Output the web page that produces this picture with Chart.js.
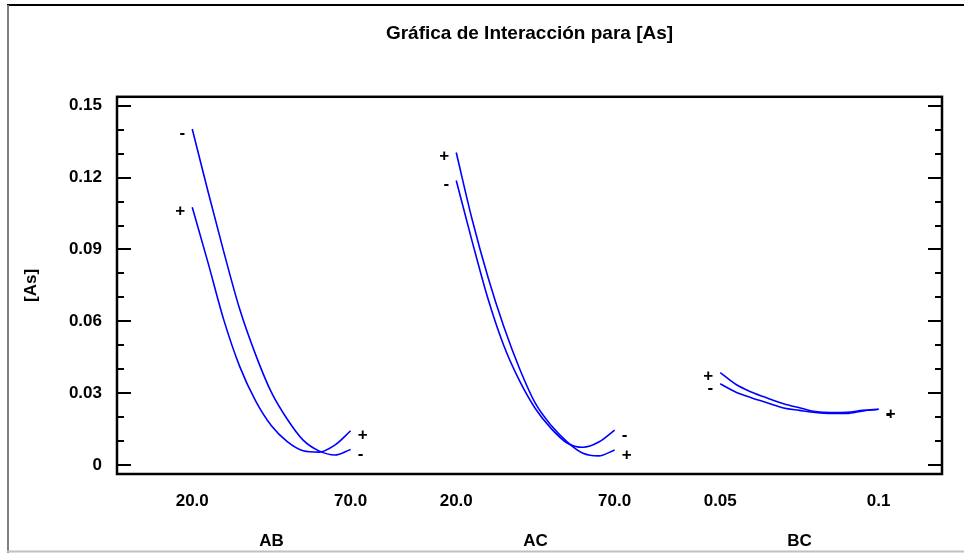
<!DOCTYPE html>
<html>
<head>
<meta charset="utf-8">
<title>Gráfica de Interacción para [As]</title>
<script src="https://cdn.jsdelivr.net/npm/chart.js@4.4.1/dist/chart.umd.min.js"></script>
<style>
  html, body { margin: 0; padding: 0; background: #fff; }
  canvas { display: block; }
</style>
</head>
<body>
<canvas id="chart" width="964" height="553"></canvas>
<script>
// factor levels along each interaction panel
var abLevels = [20, 25, 30, 35, 40, 45, 50, 55, 60, 65, 70];
var acLevels = [20, 25, 30, 35, 40, 45, 50, 55, 60, 65, 70];
var bcLevels = [0.05, 0.055, 0.06, 0.065, 0.07, 0.075, 0.08, 0.085, 0.09, 0.095, 0.1];

// [As] response
var abMinus = [0.1403, 0.1141, 0.0888, 0.0650, 0.0461, 0.0303, 0.0191, 0.0104, 0.0059, 0.0042, 0.0065];
var abPlus  = [0.1076, 0.0844, 0.0604, 0.0411, 0.0268, 0.0164, 0.0098, 0.0060, 0.0054, 0.0083, 0.0143];
var acPlus  = [0.1305, 0.1026, 0.0785, 0.0578, 0.0402, 0.0257, 0.0165, 0.0097, 0.0049, 0.0038, 0.0063];
var acMinus = [0.1188, 0.0935, 0.0695, 0.0499, 0.0351, 0.0235, 0.0152, 0.0092, 0.0074, 0.0096, 0.0146];
var bcPlus  = [0.0386, 0.0336, 0.0304, 0.0279, 0.0256, 0.0239, 0.0223, 0.0219, 0.0220, 0.0228, 0.0233];
var bcMinus = [0.0339, 0.0304, 0.0280, 0.0259, 0.0238, 0.0228, 0.0219, 0.0215, 0.0215, 0.0226, 0.0233];

var factorNames = ['AB', 'AC', 'BC'];
var xTickLabels = ['20.0', '70.0', '20.0', '70.0', '0.05', '0.1'];
var yTicks = [0, 0.01, 0.02, 0.03, 0.04, 0.05, 0.06, 0.07, 0.08, 0.09, 0.10, 0.11, 0.12, 0.13, 0.14, 0.15];
var yTickLabels = ['0', '', '', '0.03', '', '', '0.06', '', '', '0.09', '', '', '0.12', '', '', '0.15'];

var SPAN = 0.6; // width of one panel on the x axis
var FONT = '"Liberation Sans", Arial, sans-serif';

function panel(levels, values, group) {
    var lo = levels[0], hi = levels[levels.length - 1];
    return levels.map(function (lv, i) {
        return { x: group + (lv - lo) / (hi - lo) * SPAN, y: values[i] };
    });
}

function line(data, startLabel, endLabel) {
    return {
        data: data,
        borderColor: 'rgb(0, 0, 255)',
        borderWidth: 1.6,
        pointRadius: 0,
        fill: false,
        cubicInterpolationMode: 'monotone',
        startLabel: startLabel,
        endLabel: endLabel
    };
}

var datasets = [
    line(panel(abLevels, abMinus, 0), '-', '-'),
    line(panel(abLevels, abPlus, 0), '+', '+'),
    line(panel(acLevels, acPlus, 1), '+', '+'),
    line(panel(acLevels, acMinus, 1), '-', '-'),
    line(panel(bcLevels, bcMinus, 2), '-', '-'),
    line(panel(bcLevels, bcPlus, 2), '+', '+')
];

var xTickPos = [0, SPAN, 1, 1 + SPAN, 2, 2 + SPAN];
var factorPos = [SPAN / 2, 1 + SPAN / 2, 2 + SPAN / 2];

var decorations = {
    id: 'decorations',
    beforeDraw: function (chart) {
        var ctx = chart.ctx;
        ctx.save();
        ctx.fillStyle = '#fff';
        ctx.fillRect(0, 0, chart.width, chart.height);
        ctx.lineWidth = 2;
        ctx.strokeStyle = '#000';
        ctx.beginPath(); ctx.moveTo(7, 5); ctx.lineTo(chart.width, 5); ctx.stroke();
        ctx.strokeStyle = '#808080';
        ctx.beginPath(); ctx.moveTo(8, 5); ctx.lineTo(8, chart.height); ctx.stroke();
        ctx.strokeStyle = '#c0c0c0';
        ctx.beginPath(); ctx.moveTo(7, 551.5); ctx.lineTo(chart.width, 551.5); ctx.stroke();
        ctx.restore();
    },
    afterDatasetsDraw: function (chart) {
        var ctx = chart.ctx;
        ctx.save();
        ctx.font = 'bold 17px ' + FONT;
        ctx.fillStyle = '#000';
        ctx.textBaseline = 'middle';
        chart.data.datasets.forEach(function (ds, i) {
            var pts = chart.getDatasetMeta(i).data;
            var a = pts[0], b = pts[pts.length - 1];
            ctx.textAlign = 'right';
            ctx.fillText(ds.startLabel, a.x - 7, a.y + 4);
            ctx.textAlign = 'left';
            ctx.fillText(ds.endLabel, b.x + 7, b.y + 5);
        });
        ctx.restore();
    },
    afterDraw: function (chart) {
        var ctx = chart.ctx;
        var area = chart.chartArea;
        var y = chart.scales.y;
        ctx.save();
        ctx.strokeStyle = '#000';
        ctx.lineWidth = 2;
        y.ticks.forEach(function (t, i) {
            var py = Math.round(y.getPixelForValue(t.value));
            var len = yTickLabels[i] ? 14 : 7;
            ctx.beginPath();
            ctx.moveTo(area.left, py); ctx.lineTo(area.left + len, py);
            ctx.moveTo(area.right, py); ctx.lineTo(area.right - len, py);
            ctx.stroke();
        });
        ctx.lineWidth = 2.5;
        ctx.strokeRect(area.left, area.top, area.right - area.left, area.bottom - area.top);
        ctx.restore();
    }
};

var tickFont = { family: FONT, size: 17, weight: 'bold' };

new Chart(document.getElementById('chart'), {
    type: 'line',
    data: { datasets: datasets },
    plugins: [decorations],
    options: {
        responsive: false,
        animation: false,
        devicePixelRatio: 1,
        layout: { padding: { left: 17, right: 22, top: 0, bottom: 0 } },
        plugins: {
            legend: { display: false },
            tooltip: { enabled: false },
            title: {
                display: true,
                fullSize: false,
                text: 'Gráfica de Interacción para [As]',
                color: '#000',
                font: { family: FONT, size: 19, weight: 'bold' },
                padding: { top: 22, bottom: 52 }
            }
        },
        scales: {
            x: {
                type: 'linear',
                min: -0.285,
                max: 2.84,
                weight: 0,
                grid: { display: false, drawTicks: false },
                border: { display: false },
                afterBuildTicks: function (axis) {
                    axis.ticks = xTickPos.map(function (v) { return { value: v }; });
                },
                afterFit: function (axis) { axis.height = 46; },
                ticks: {
                    autoSkip: false,
                    maxRotation: 0,
                    padding: 17,
                    color: '#000',
                    font: tickFont,
                    callback: function (value, index) { return xTickLabels[index]; }
                }
            },
            x2: {
                type: 'linear',
                position: 'bottom',
                min: -0.285,
                max: 2.84,
                weight: 1,
                grid: { display: false, drawTicks: false },
                border: { display: false },
                afterBuildTicks: function (axis) {
                    axis.ticks = factorPos.map(function (v) { return { value: v }; });
                },
                afterFit: function (axis) { axis.height = 33; },
                ticks: {
                    autoSkip: false,
                    maxRotation: 0,
                    padding: 11,
                    color: '#000',
                    font: tickFont,
                    callback: function (value, index) { return factorNames[index]; }
                }
            },
            y: {
                min: -0.00375,
                max: 0.15375,
                grid: { display: false, drawTicks: false },
                border: { display: false },
                afterBuildTicks: function (axis) {
                    axis.ticks = yTicks.map(function (v) { return { value: v }; });
                },
                afterFit: function (axis) { axis.width = 100; },
                title: {
                    display: true,
                    text: '[As]',
                    color: '#000',
                    font: tickFont,
                    padding: { top: 4, bottom: 4 }
                },
                ticks: {
                    autoSkip: false,
                    padding: 15,
                    color: '#000',
                    font: tickFont,
                    callback: function (value, index) { return yTickLabels[index]; }
                }
            }
        }
    }
});
</script>
</body>
</html>
